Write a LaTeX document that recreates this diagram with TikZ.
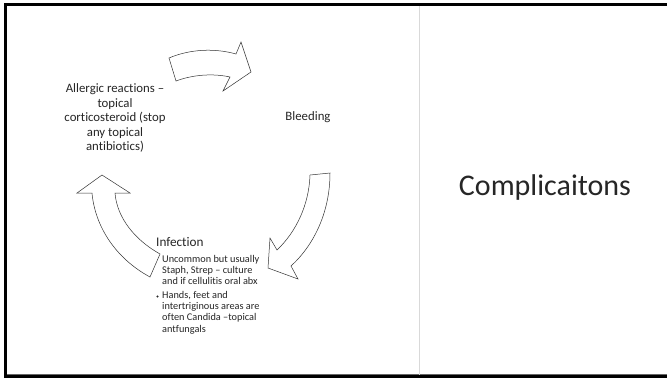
\documentclass[tikz,border=0pt]{standalone}
\usepackage{fontspec}
\setmainfont{Carlito}[Ligatures={NoCommon}]
\begin{document}
\begin{tikzpicture}[x=1pt,y=-1pt,
  arrowshape/.style={draw=black!80,line width=0.5pt,fill=white,line join=miter},
  bodytext/.style={inner sep=0pt,font=\fontsize{12.8}{14.5}\selectfont,text=black!85},
  subtext/.style={inner sep=0pt,align=left,anchor=north west,font=\fontsize{10.3}{11.3}\selectfont,text=black!85}]
\useasboundingbox (0,0) rectangle (667,378);
\fill[white] (0,0) rectangle (667,378);
% frame
\fill[black] (4,3) rectangle (667,6);
\fill[black] (4,3) rectangle (7,378);
\fill[black] (4,375) rectangle (667,378);
\draw[black!60,line width=0.6pt] (7,374.6) -- (667,374.6);
% divider
\draw[black!15,line width=1pt] (419,6) -- (419,375);
% top arrow
\draw[arrowshape] (169,58) .. controls (190,49) and (215,48) .. (236,54)
  -- (241,42) -- (251,72) -- (223,91) -- (230,77)
  .. controls (212,73) and (192,75) .. (176,81) -- cycle;
% right arrow
\draw[arrowshape] (330,173) .. controls (330,212) and (314,245) .. (291,266)
  -- (298,279) -- (268,268) -- (270,238) -- (277,250)
  .. controls (296,232) and (309,205) .. (310,175) -- cycle;
% left arrow
\draw[arrowshape] (102,175) -- (77,193) -- (92,193)
  .. controls (95,226) and (115,258) .. (150,277)
  -- (160,254)
  .. controls (135,240) and (117,218) .. (115,193)
  -- (130,193) -- cycle;
% texts
\node[bodytext,align=center] (allergic) at (115,118) {Allergic reactions –\\topical\\corticosteroid (stop\\any topical\\antibiotics)};
\node[bodytext] (bleeding) at (308,117) {Bleeding};
\node[bodytext,anchor=west,font=\fontsize{13.2}{15}\selectfont] (infection) at (156,242) {Infection};
\node[subtext] (sub1) at (162,255) {Uncommon but usually\\Staph, Strep – culture\\and if cellulitis oral abx};
\node[subtext] (sub2) at (162,291) {Hands, feet and\\intertriginous areas are\\often Candida –topical\\antfungals};
\fill[black!85] (157.5,296.5) circle (1.1pt);
\node[inner sep=0pt,font=\fontsize{30}{34}\selectfont,text=black!85] (title) at (545,187) {Complicaitons};
\end{tikzpicture}
\end{document}
